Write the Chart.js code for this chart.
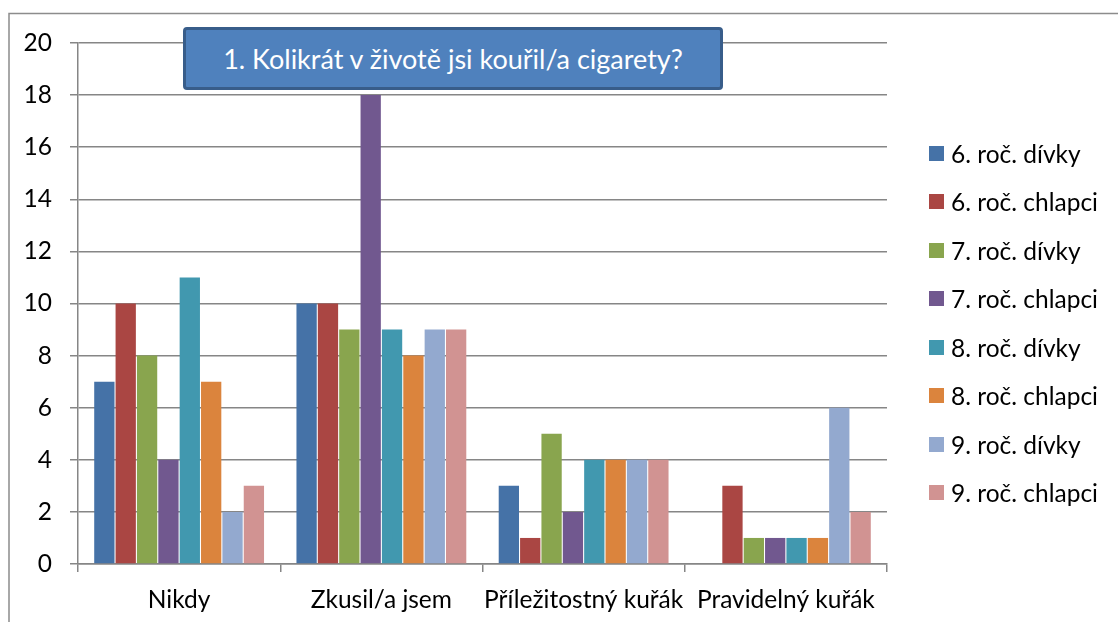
<!DOCTYPE html>
<html>
<head>
<meta charset="utf-8">
<script src="https://cdn.jsdelivr.net/npm/chart.js@4.4.1/dist/chart.umd.min.js"></script>
<style>
  html, body { margin: 0; padding: 0; background: #fff; }
  #wrap { position: relative; width: 1118px; height: 622px; overflow: hidden; font-family: Lato, "Open Sans", sans-serif; }
  #c { position: absolute; left: 0; top: 0; }
  #title {
    position: absolute; left: 183px; top: 27px; width: 540px; height: 63px;
    box-sizing: border-box; background: #4F81BD; border: 3px solid #385D8A; border-radius: 4px;
    color: #fff; font-size: 27px; display: flex; align-items: center; justify-content: center; white-space: nowrap;
  }
  #legend { position: absolute; left: 929px; top: 0; }
  .li { position: absolute; left: 0; white-space: nowrap; font-size: 24.5px; color: #000; display: flex; align-items: center; height: 24px; }
  .sw { width: 15px; height: 15px; margin-right: 7px; flex: none; }
</style>
</head>
<body>
<div id="wrap">
  <canvas id="c" width="1118" height="622"></canvas>
  <div id="title"></div>
  <div id="legend"></div>
</div>
<script>
const chartTitle = "1. Kolikrát v životě jsi kouřil/a cigarety?";
const categories = ["Nikdy", "Zkusil/a jsem", "Příležitostný kuřák", "Pravidelný kuřák"];
const seriesNames = ["6. roč. dívky", "6. roč. chlapci", "7. roč. dívky", "7. roč. chlapci", "8. roč. dívky", "8. roč. chlapci", "9. roč. dívky", "9. roč. chlapci"];
const g6Divky   = [7, 10, 3, 0];
const g6Chlapci = [10, 10, 1, 3];
const g7Divky   = [8, 9, 5, 1];
const g7Chlapci = [4, 18, 2, 1];
const g8Divky   = [11, 9, 4, 1];
const g8Chlapci = [7, 8, 4, 1];
const g9Divky   = [2, 9, 4, 6];
const g9Chlapci = [3, 9, 4, 2];
const seriesColors = ["#4572A7", "#AA4643", "#89A54E", "#71588F", "#4198AF", "#DB843D", "#93A9CF", "#D19392"];
const yTicks = [0, 2, 4, 6, 8, 10, 12, 14, 16, 18, 20];

const seriesValues = [g6Divky, g6Chlapci, g7Divky, g7Chlapci, g8Divky, g8Chlapci, g9Divky, g9Chlapci];

document.getElementById('title').textContent = chartTitle;
const leg = document.getElementById('legend');
seriesNames.forEach((n, i) => {
  const d = document.createElement('div');
  d.className = 'li';
  d.style.top = (141 + i * 48.5) + 'px';
  d.innerHTML = '<span class="sw" style="background:' + seriesColors[i] + '"></span><span></span>';
  d.lastChild.textContent = n;
  leg.appendChild(d);
});

const framePlugin = {
  id: 'frame',
  beforeDraw(chart) {
    const ctx = chart.ctx;
    ctx.save();
    ctx.strokeStyle = '#8C8C8C';
    ctx.lineWidth = 1.5;
    ctx.beginPath();
    ctx.moveTo(9, 622);
    ctx.lineTo(9, 13.5);
    ctx.lineTo(1118, 13.5);
    ctx.stroke();
    ctx.restore();
  }
};

new Chart(document.getElementById('c'), {
  type: 'bar',
  data: {
    labels: categories,
    datasets: seriesNames.map((n, i) => ({
      label: n,
      data: seriesValues[i],
      backgroundColor: seriesColors[i],
      borderWidth: 0,
      categoryPercentage: 0.845,
      barPercentage: 0.95
    }))
  },
  options: {
    responsive: false,
    animation: false,
    devicePixelRatio: 1,
    layout: { padding: { left: 0, top: 43, right: 231, bottom: 0 } },
    plugins: { legend: { display: false }, title: { display: false }, tooltip: { enabled: false } },
    scales: {
      x: {
        afterFit(s) { s.height = 58; },
        grid: { display: true, drawOnChartArea: false, drawTicks: true, tickLength: 8, color: '#868686', lineWidth: 1.5, offset: true },
        border: { display: true, color: '#868686', width: 1.5 },
        ticks: { color: '#000', font: { family: 'Lato', size: 24.5 }, padding: 13, maxRotation: 0, autoSkip: false }
      },
      y: {
        min: 0, max: 20,
        afterFit(s) { s.width = 78; },
        afterBuildTicks(s) { s.ticks = yTicks.map(v => ({ value: v })); },
        grid: { color: '#868686', lineWidth: 1.5, tickLength: 8 },
        border: { display: true, color: '#868686', width: 1.5 },
        ticks: { color: '#000', font: { family: 'Lato', size: 24.5 }, padding: 18 }
      }
    }
  },
  plugins: [framePlugin]
});
</script>
</body>
</html>
